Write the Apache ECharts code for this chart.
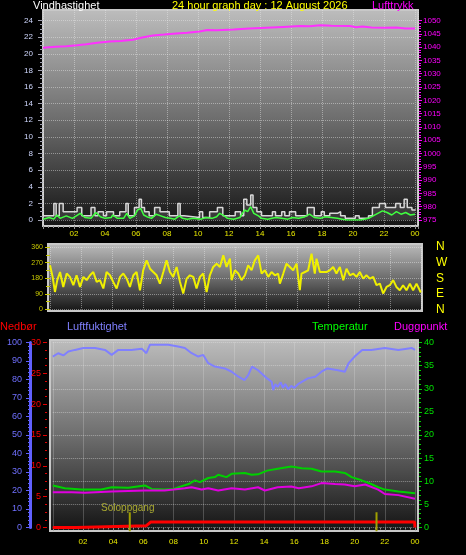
<!DOCTYPE html>
<html><head><meta charset="utf-8">
<script src="https://cdn.jsdelivr.net/npm/echarts@6/dist/echarts.min.js"></script>
<style>html,body{margin:0;padding:0;background:#000;}#c{width:466px;height:555px;}</style>
</head><body><div id="c"></div>
<script>
// ---------- data (hour of day, value) ----------
const titleText = '24 hour graph day : 12 August 2026';
const pressure = [[0,1039.8],[0.8,1040.1],[1.5,1040.3],[2.2,1040.7],[2.8,1041.1],[3.5,1041.6],[4.3,1042.1],[5.0,1042.3],[5.8,1042.8],[6.4,1043.6],[7.1,1044.4],[7.8,1044.7],[8.6,1045.1],[9.3,1045.4],[10.1,1045.9],[10.6,1046.4],[11.2,1046.3],[12.3,1046.6],[13.3,1047.0],[14.4,1047.3],[15.5,1047.6],[16.6,1047.9],[17.2,1047.8],[17.9,1048.2],[18.6,1048.0],[19.8,1047.9],[20.2,1047.5],[20.6,1047.7],[21.2,1047.4],[22,1047.3],[22.8,1047.4],[23.4,1047.0],[24,1047.0]];
const windGust = [[0,0.5],[0.7,2],[0.85,0.5],[1.05,2],[1.3,1],[2.2,1.5],[2.5,0.5],[3.1,1.5],[3.35,0.5],[3.55,1],[3.9,0.5],[4.1,1],[4.55,0.5],[4.95,1],[5.35,2],[5.5,0.5],[5.9,1.5],[6.2,2.5],[6.35,1.5],[6.55,1],[6.85,0.5],[7.2,1.5],[7.55,1],[8.15,0.5],[8.7,2],[8.85,0.5],[9.1,0.3],[10.1,1],[10.3,0.3],[10.75,1],[11.25,1.5],[11.6,0.5],[12.4,1],[12.75,0.5],[12.95,2.5],[13.15,1.8],[13.4,3],[13.55,1.5],[13.8,1],[14.1,0.5],[14.8,1],[15.0,0.5],[15.4,1],[15.6,0.5],[15.9,1],[16.3,0.5],[17.05,1.5],[17.5,0.5],[17.95,1],[18.15,0.5],[18.5,0.8],[19.0,1],[19.2,0.5],[19.5,0.2],[20.15,0.5],[20.4,0.2],[21.0,0.5],[21.25,1.5],[21.7,2],[22.1,1.5],[22.75,2],[23.05,1.5],[23.3,2.5],[23.5,1.5],[23.8,1.2],[24,1.3]];
const windAvg = [[0,0.1],[0.4,0.3],[0.7,0.1],[0.9,0.6],[1.1,0.2],[1.5,0.5],[1.9,0.2],[2.4,0.8],[2.7,0.3],[3.1,0.2],[3.4,0.9],[3.7,0.4],[4.0,0.2],[4.4,0.3],[4.5,0.6],[4.8,0.2],[5.2,0.2],[5.4,0.8],[5.6,0.2],[5.9,0.5],[6.1,1.2],[6.3,1.4],[6.5,0.6],[6.7,0.4],[7.0,0.2],[7.3,0.7],[7.6,0.5],[7.9,0.3],[8.2,0.2],[8.5,0.1],[8.8,0.5],[9.0,0.2],[9.3,0.1],[9.7,0.2],[10.2,0.1],[10.5,0.3],[10.9,0.2],[11.2,0.4],[11.4,0.8],[11.5,1.0],[11.7,0.5],[11.9,0.2],[12.3,0.1],[12.7,0.3],[13.0,1.2],[13.2,1.0],[13.4,1.6],[13.6,0.8],[13.9,0.5],[14.1,0.2],[14.5,0.1],[15.0,0.3],[15.4,0.2],[15.8,0.1],[16.1,0.3],[16.5,0.2],[16.9,0.4],[17.2,0.7],[17.5,0.3],[17.9,0.2],[18.2,0.4],[18.6,0.3],[19.0,0.2],[19.3,0.1],[19.6,0],[20.5,0],[21.0,0.2],[21.3,0.5],[21.6,0.8],[21.9,1.1],[22.2,0.9],[22.5,0.6],[22.8,1.0],[23.1,0.7],[23.4,0.9],[23.7,0.6],[24,0.7]];
const windDir = [[0,255],[0.17,188],[0.32,101],[0.47,169],[0.65,216],[0.86,130],[1.08,207],[1.29,188],[1.51,140],[1.72,197],[1.94,130],[2.16,188],[2.37,169],[2.59,197],[2.8,216],[3.02,159],[3.23,169],[3.45,121],[3.66,216],[3.88,197],[4.09,159],[4.31,121],[4.53,188],[4.74,207],[4.96,178],[5.17,130],[5.39,197],[5.6,216],[5.82,111],[6.03,226],[6.25,283],[6.47,235],[6.68,216],[6.9,197],[7.11,149],[7.33,216],[7.54,283],[7.76,216],[7.97,188],[8.19,245],[8.41,159],[8.62,92],[8.84,178],[9.05,197],[9.27,188],[9.48,121],[9.7,188],[9.91,207],[10.13,101],[10.34,197],[10.56,245],[10.78,264],[10.99,245],[11.21,312],[11.42,245],[11.64,293],[11.75,169],[11.96,226],[12.18,207],[12.39,169],[12.61,197],[12.82,255],[13.04,226],[13.25,283],[13.47,312],[13.69,207],[13.9,226],[14.12,188],[14.33,216],[14.55,197],[14.76,207],[14.87,149],[15.09,207],[15.3,264],[15.52,245],[15.73,226],[15.95,264],[16.16,111],[16.27,207],[16.49,216],[16.7,226],[16.92,322],[17.13,207],[17.24,293],[17.46,216],[17.67,216],[17.89,216],[18.1,226],[18.32,245],[18.53,207],[18.75,245],[18.97,169],[19.18,235],[19.4,197],[19.61,207],[19.83,188],[20.04,216],[20.26,178],[20.47,197],[20.69,178],[20.91,188],[21.12,140],[21.34,149],[21.55,92],[21.77,130],[21.98,140],[22.2,169],[22.41,130],[22.63,111],[22.84,140],[23.06,111],[23.28,149],[23.49,111],[23.71,149],[23.99,98]];
const humidity = [[0,92.4],[0.36,94.2],[0.7,93],[1.03,95.1],[1.47,96],[2.02,97],[2.8,97],[3.46,96],[3.9,93.3],[4.34,96],[5.2,96],[5.9,96.6],[6.2,94.2],[6.44,98.8],[7.0,98.8],[7.65,98.8],[8.3,97.8],[8.75,97],[9.2,94.2],[9.64,92.4],[9.97,93.3],[10.3,88.8],[10.74,87],[11.4,86],[11.85,84.2],[12.3,81.5],[12.7,79.7],[12.95,82.4],[13.2,87],[13.6,85],[14.2,80.6],[14.5,78.8],[14.6,74.3],[14.75,77.5],[14.9,76],[15.1,78.5],[15.25,75.5],[15.4,77.5],[15.6,74.8],[15.8,76.5],[16.0,75.5],[16.3,77.8],[16.9,80.6],[17.4,81.5],[17.8,84.2],[18.2,86],[18.9,85],[19.35,84.2],[19.6,88.8],[20.0,92.4],[20.5,96],[21.1,96],[22.0,97],[22.9,96],[23.8,97],[24,96]];
const temperature = [[0,9.1],[0.8,8.5],[1.9,8.2],[3.2,8.2],[3.9,8.7],[5.0,8.6],[6.1,9.1],[6.55,8.35],[7.4,8.2],[8.0,8.35],[8.5,8.9],[9.0,9.4],[9.42,10.2],[9.75,9.8],[10.3,10.7],[10.74,10.9],[10.96,11.4],[11.5,10.9],[11.85,11.6],[12.73,11.8],[13.17,11.4],[13.6,11.5],[14.2,12.3],[14.9,12.7],[15.8,13.2],[16.5,12.8],[17.15,12.7],[17.8,12.1],[18.7,12.1],[19.35,11.8],[19.8,10.9],[20.46,10.2],[21.1,9.4],[21.56,8.7],[22.0,8.2],[22.9,7.8],[24,7.4]];
const dewPoint = [[0,7.6],[1.25,7.6],[2.13,7.5],[3.9,7.8],[6.1,8.0],[7.4,8.0],[8.0,8.2],[8.75,8.5],[9.2,8.7],[9.86,8.2],[10.3,8.5],[10.96,8.0],[11.85,8.5],[12.73,8.2],[13.6,8.7],[14.05,8.0],[14.9,8.7],[15.8,8.85],[16.3,8.5],[17.15,8.9],[17.8,9.6],[18.7,9.4],[19.35,9.3],[20.0,8.9],[20.7,9.3],[21.56,8.2],[22.0,7.25],[22.9,7.0],[24,6.2]];
const rainfall = [[0,0],[1.55,0],[1.6,0.3],[6.2,0.3],[6.5,0.9],[23.97,0.9],[24,0]];
const sunTimes = [5.1, 21.45];           // sunrise, sunset (hours)
const sunLabel = 'Soloppgang';
const compass = {0:'N', 90:'E', 180:'S', 270:'W', 360:'N'};

// ---------- styling helpers ----------
const FONT = "'Liberation Sans', Arial, sans-serif";
function bgGrad(){ return new echarts.graphic.LinearGradient(0,0,0,1,[
  {offset:0,color:'#bdbdbd'},{offset:0.5,color:'#6e6e6e'},{offset:1,color:'#131313'}]); }
const dotted = {show:true, lineStyle:{color:'rgba(235,235,235,0.45)', type:'dotted', width:1}};
function hourFmt(v){ if (v===0 || v%2!==0 || v>24) return ''; const h=v%24; return (h<10?'0':'')+h; }
const SUN_LO = -0.8, SUN_HI = 3.3;   // marker extent in temperature-axis units (style)
const sunMark = [];
sunTimes.forEach((t,i)=>{ if(i) sunMark.push('-'); sunMark.push([t,SUN_LO]); sunMark.push([t,SUN_HI]); });

const chart = echarts.init(document.getElementById('c'), null, {renderer:'canvas'});
chart.setOption({
  backgroundColor:'#000',
  animation:false,
  grid:[
    {left:43, right:51, top:20.5, bottom:335},
    {left:43, right:48, top:10, bottom:329, show:true, backgroundColor:bgGrad(), borderColor:'#c8c8c8', borderWidth:2},
    {left:50, right:45, top:247, bottom:245.5},
    {left:48, right:44, top:244, bottom:244, show:true, backgroundColor:bgGrad(), borderColor:'#c8c8c8', borderWidth:2},
    {left:52.8, right:51, top:342.5, bottom:27.5},
    {left:50, right:48, top:340, bottom:24, show:true, backgroundColor:bgGrad(), borderColor:'#c8c8c8', borderWidth:2}
  ],
  xAxis:[
    {gridIndex:0, type:'value', min:0, max:24, show:false},
    {gridIndex:1, type:'value', min:0, max:24*375/372, interval:2,
      axisLine:{show:false}, axisTick:{show:true,length:3,lineStyle:{color:'#909090'}},
      minorTick:{show:true,splitNumber:6,length:2,lineStyle:{color:'#909090'}},
      axisLabel:{color:'#e8e800', fontSize:8, margin:4, fontFamily:FONT, formatter:hourFmt, showMaxLabel:false},
      splitLine:dotted},
    {gridIndex:2, type:'value', min:0, max:24, interval:2, axisLine:{show:false}, axisTick:{show:false}, axisLabel:{show:false}, splitLine:dotted},
    {gridIndex:3, type:'value', min:0, max:1, show:false},
    {gridIndex:4, type:'value', min:0, max:24, interval:2, offset:3.5,
      axisLine:{show:false}, axisTick:{show:true,length:3,lineStyle:{color:'#909090'}},
      minorTick:{show:true,splitNumber:6,length:2,lineStyle:{color:'#909090'}},
      axisLabel:{color:'#e8e800', fontSize:8, margin:7, fontFamily:FONT, formatter:hourFmt},
      splitLine:dotted},
    {gridIndex:5, type:'value', min:0, max:1, show:false}
  ],
  yAxis:[
    {gridIndex:0, type:'value', min:0, max:24, interval:2, position:'left', offset:1,
      axisLine:{show:false}, axisTick:{show:true,length:5,lineStyle:{color:'#a0a0b0'}},
      minorTick:{show:true,splitNumber:4,length:3,lineStyle:{color:'#a0a0b0'}},
      axisLabel:{color:'#d0d8ff', fontSize:8, margin:9, fontFamily:FONT}, splitLine:dotted},
    {gridIndex:0, type:'value', min:975, max:1050, interval:5, position:'right', offset:4,
      axisLine:{show:false}, axisTick:{show:true,length:3,lineStyle:{color:'#ff00ff'}},
      minorTick:{show:true,splitNumber:5,length:2,lineStyle:{color:'#ff00ff'}},
      axisLabel:{color:'#ff00ff', fontSize:8, margin:4, fontFamily:FONT, formatter:v=>String(v)}, splitLine:{show:false}},
    {gridIndex:1, type:'value', min:0, max:1, show:false},
    {gridIndex:2, type:'value', min:0, max:360, interval:90, position:'left', offset:4,
      axisLine:{show:false}, axisTick:{show:true,length:5,lineStyle:{color:'#c8c800'}},
      minorTick:{show:true,splitNumber:2,length:4,lineStyle:{color:'#c8c800'}},
      axisLabel:{color:'#c8c800', fontSize:7, margin:3, fontFamily:FONT}, splitLine:dotted},
    {gridIndex:2, type:'value', min:0, max:360, interval:90, position:'right',
      axisLine:{show:false}, axisTick:{show:false}, splitLine:{show:false},
      axisLabel:{color:'#ffff00', fontSize:12, margin:15, fontFamily:FONT, formatter:v=>compass[v]||''}},
    {gridIndex:3, type:'value', min:0, max:1, show:false},
    {gridIndex:4, type:'value', min:0, max:100, interval:10, position:'left', offset:22.8,
      axisLine:{show:true,onZero:false,lineStyle:{color:'#6060ff',width:3}}, axisTick:{show:true,length:4,lineStyle:{color:'#6060ff'}},
      minorTick:{show:true,splitNumber:5,length:2,lineStyle:{color:'#6060ff'}},
      axisLabel:{color:'#7070ff', fontSize:9, margin:8, fontFamily:FONT}, splitLine:{show:false}},
    {gridIndex:4, type:'value', min:0, max:30, interval:5, position:'left', offset:5.8,
      axisLine:{show:false,onZero:false}, axisTick:{show:true,length:4,lineStyle:{color:'#e00000'}},
      minorTick:{show:true,splitNumber:4,length:2,lineStyle:{color:'#e00000'}},
      axisLabel:{color:'#ff0000', fontSize:9, margin:6, fontFamily:FONT}, splitLine:{show:false}},
    {gridIndex:4, type:'value', min:0, max:40, interval:5, position:'right', offset:4,
      axisLine:{show:false,onZero:false}, axisTick:{show:true,length:3,lineStyle:{color:'#00d000'}},
      minorTick:{show:true,splitNumber:5,length:2,lineStyle:{color:'#00d000'}},
      axisLabel:{color:'#00e000', fontSize:9, margin:5, fontFamily:FONT}, splitLine:dotted},
    {gridIndex:5, type:'value', min:0, max:1, show:false}
  ],
  series:[
    {name:'Vindkast', type:'line', xAxisIndex:0, yAxisIndex:0, data:windGust, step:'end', symbol:'none',
      lineStyle:{color:'#d8d8d8', width:1.5}, areaStyle:{color:'rgba(150,150,150,0.35)'}},
    {name:'Vindhastighet', type:'line', xAxisIndex:0, yAxisIndex:0, data:windAvg, symbol:'none',
      lineStyle:{color:'#40ff40', width:1.5}},
    {name:'Lufttrykk', type:'line', xAxisIndex:0, yAxisIndex:1, data:pressure, symbol:'none',
      lineStyle:{color:'#ff30ff', width:2}},
    {name:'Vindretning', type:'line', xAxisIndex:2, yAxisIndex:3, data:windDir, symbol:'none',
      lineStyle:{color:'#f0f000', width:2}},
    {name:'Luftfuktighet', type:'line', xAxisIndex:4, yAxisIndex:6, data:humidity, symbol:'none',
      lineStyle:{color:'#8080ff', width:2}},
    {name:'Temperatur', type:'line', xAxisIndex:4, yAxisIndex:8, data:temperature, symbol:'none',
      lineStyle:{color:'#00d000', width:2}},
    {name:'Duggpunkt', type:'line', xAxisIndex:4, yAxisIndex:8, data:dewPoint, symbol:'none',
      lineStyle:{color:'#e000e0', width:2}},
    {name:'Nedbør', type:'line', xAxisIndex:4, yAxisIndex:7, data:rainfall, symbol:'none',
      lineStyle:{color:'#ff0000', width:3}},
    {name:'Sol', type:'line', xAxisIndex:4, yAxisIndex:8, data:sunMark, symbol:'none', clip:false,
      connectNulls:false, lineStyle:{color:'#a0a000', width:2}},
    {name:'Soloppgang', type:'scatter', xAxisIndex:4, yAxisIndex:8, data:[[sunTimes[0], SUN_HI]], symbolSize:0, clip:false,
      label:{show:true, formatter:sunLabel, position:'top', distance:0, offset:[-2,1], color:'#c8c832', fontSize:10, fontFamily:FONT}}
  ],
  graphic:[
    {type:'text', style:{text:'Vindhastighet', x:33, y:6, fill:'#ffffff', font:'11px '+FONT, verticalAlign:'middle'}},
    {type:'text', style:{text:titleText, x:172, y:6, fill:'#ffff00', font:'11px '+FONT, verticalAlign:'middle'}},
    {type:'text', style:{text:'Lufttrykk', x:372, y:6, fill:'#ff00ff', font:'11px '+FONT, verticalAlign:'middle'}},
    {type:'text', style:{text:'Nedbør', x:0, y:326.5, fill:'#ff0000', font:'11px '+FONT, verticalAlign:'middle'}},
    {type:'text', style:{text:'Luftfuktighet', x:67, y:326.5, fill:'#8080ff', font:'11px '+FONT, verticalAlign:'middle'}},
    {type:'text', style:{text:'Temperatur', x:312, y:326.5, fill:'#00ff00', font:'11px '+FONT, verticalAlign:'middle'}},
    {type:'text', style:{text:'Duggpunkt', x:394, y:326.5, fill:'#ff00ff', font:'11px '+FONT, verticalAlign:'middle'}}
  ]
});
</script></body></html>
